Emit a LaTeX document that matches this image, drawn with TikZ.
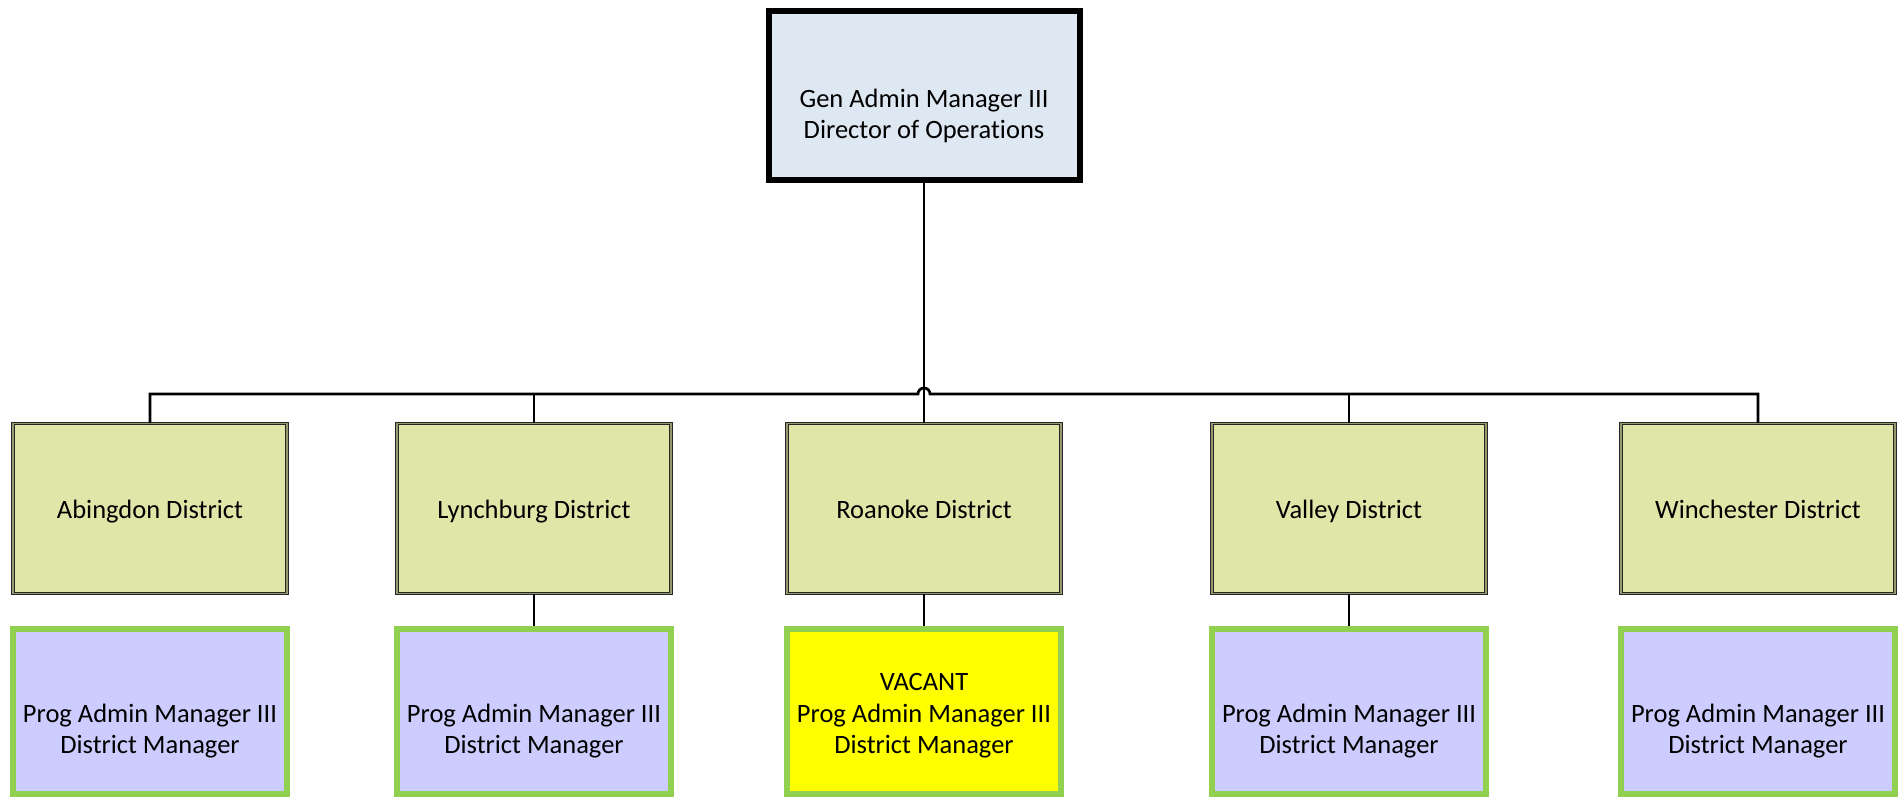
\documentclass[tikz,border=0pt]{standalone}
\usepackage{fontspec}
\setmainfont[RawFeature={-liga}]{Carlito}
\usetikzlibrary{positioning}
\definecolor{headfill}{RGB}{222,232,242}
\definecolor{distfill}{RGB}{224,229,168}
\definecolor{distgap}{RGB}{150,152,110}
\definecolor{mgrfill}{RGB}{204,204,255}
\definecolor{mgrline}{RGB}{146,208,80}
\definecolor{vacfill}{RGB}{255,255,0}
\newcommand{\topgap}{\rule{0pt}{26pt}}

\begin{document}
\begin{tikzpicture}[
  x=1pt, y=-1pt,
  font=\fontsize{26.5}{31.5}\selectfont,
  head/.style={                             % director: heavy black frame
    draw=black, line width=6pt, fill=headfill,
    rectangle, minimum width=311pt, minimum height=169pt,
    inner sep=0pt, align=center
  },
  dist/.style={                             % district: double thin frame
    draw=black!85, line width=0.9pt, double=distgap, double distance=1.4pt,
    fill=distfill, rectangle, minimum width=274pt, minimum height=170pt,
    inner sep=0pt, text height=22pt, text depth=2pt
  },
  mgr/.style={                              % district manager: green frame
    draw=mgrline, line width=6pt, fill=mgrfill,
    rectangle, minimum width=274pt, minimum height=165pt,
    inner sep=0pt, align=center
  },
  vacant/.style={mgr, fill=vacfill},
  link/.style={draw=black, line width=2.7pt},
]
\useasboundingbox (0,0) rectangle (1902,799);

% ---- Director ----
\node (dir) at (924,95.5) [head] {\rule{0pt}{28pt}\\Gen Admin Manager III\\Director of Operations};

% ---- Districts ----
\node (abi) at (150,508.5)  [dist] {Abingdon District};
\node (lyn) at (534,508.5)  [dist] {Lynchburg District};
\node (roa) at (924,508.5)  [dist] {Roanoke District};
\node (val) at (1349,508.5) [dist] {Valley District};
\node (win) at (1758,508.5) [dist] {Winchester District};

% ---- District managers ----
\node (abim) at (150,711.5)  [mgr]    {\topgap\\Prog Admin Manager III\\District Manager};
\node (lynm) at (534,711.5)  [mgr]    {\topgap\\Prog Admin Manager III\\District Manager};
\node (roam) at (924,711.5)  [vacant] {\topgap VACANT\\Prog Admin Manager III\\District Manager};
\node (valm) at (1349,711.5) [mgr]    {\topgap\\Prog Admin Manager III\\District Manager};
\node (winm) at (1758,711.5) [mgr]    {\topgap\\Prog Admin Manager III\\District Manager};

% ---- Connectors ----
\coordinate (bus) at (924,394);
\draw[link] (dir.south) -- (roa.north);
\draw[link] (abi.north) |- ([xshift=-6pt]bus)
  arc[start angle=180, end angle=0, radius=6pt] -| (win.north);
\foreach \d in {lyn, val}
  \draw[link] (\d.north) -- (\d.north |- bus);
\foreach \d/\m in {lyn/lynm, roa/roam, val/valm}
  \draw[link] (\d.south) -- (\m.north);

\end{tikzpicture}
\end{document}
